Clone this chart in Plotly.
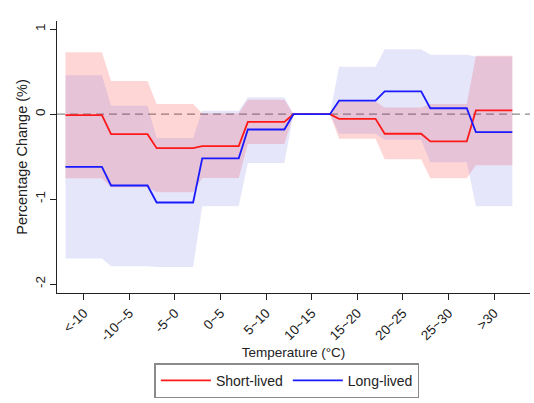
import plotly.graph_objects as go

# Temperature bins and estimated effects (percentage change) with confidence bounds
categories = ["<-10", "-10~-5", "-5~0", "0~5", "5~10", "10~15", "15~20", "20~25", "25~30", ">30"]

short_est = [-0.01, -0.235, -0.40, -0.375, -0.09, 0.0, -0.055, -0.23, -0.32, 0.045]
short_hi = [0.73, 0.39, 0.12, 0.01, 0.17, 0.0, 0.15, 0.08, 0.12, 0.69]
short_lo = [-0.755, -0.86, -0.92, -0.75, -0.35, 0.0, -0.29, -0.53, -0.755, -0.60]

long_est = [-0.62, -0.84, -1.04, -0.52, -0.18, 0.0, 0.16, 0.27, 0.07, -0.21]
long_hi = [0.46, 0.10, -0.28, 0.04, 0.20, 0.0, 0.56, 0.765, 0.70, 0.68]
long_lo = [-1.70, -1.79, -1.80, -1.085, -0.575, 0.0, -0.23, -0.30, -0.565, -1.085]

HALF = 0.4  # half-width of each flat step around its bin centre
FONT = "Arial, 'Liberation Sans', sans-serif"


def step_x(n):
    xs = []
    for i in range(n):
        xs += [i - HALF, i + HALF]
    return xs


def step_y(vals):
    ys = []
    for v in vals:
        ys += [v, v]
    return ys


xs = step_x(len(categories))

fig = go.Figure()


def band(lo, hi, color):
    fig.add_trace(go.Scatter(
        x=xs + xs[::-1],
        y=step_y(hi) + step_y(lo)[::-1],
        fill="toself", fillcolor=color,
        line=dict(width=0), mode="lines",
        hoverinfo="skip", showlegend=False,
    ))


band(short_lo, short_hi, "rgba(255,0,0,0.16)")
band(long_lo, long_hi, "rgba(88,88,222,0.15)")

fig.add_trace(go.Scatter(
    x=xs, y=step_y(short_est), mode="lines", name="Short-lived",
    line=dict(color="#ff1a1a", width=1.8),
))
fig.add_trace(go.Scatter(
    x=xs, y=step_y(long_est), mode="lines", name="Long-lived",
    line=dict(color="#1a1aff", width=1.8),
))

# zero reference line
fig.add_hline(y=0, line=dict(color="#8c8c8c", width=1.3, dash="8px,5px"), layer="below")

fig.update_layout(
    width=534, height=403,
    margin=dict(l=57, r=4, t=21, b=110),
    paper_bgcolor="white", plot_bgcolor="white",
    font=dict(family=FONT, size=13, color="#222"),
    showlegend=True,
    legend=dict(
        orientation="h", x=0.486, xanchor="center", y=-0.258, yanchor="top",
        bordercolor="#8a8a8a", borderwidth=1.5, bgcolor="white",
        font=dict(family=FONT, size=14, color="#222"),
        itemwidth=50,
    ),
    xaxis=dict(
        range=[-0.585, 9.787],
        tickmode="array", tickvals=list(range(len(categories))), ticktext=categories,
        tickangle=-45, ticks="outside", ticklen=6, tickcolor="#222",
        tickfont=dict(size=13.5),
        showline=True, linecolor="#222", linewidth=1,
        showgrid=False, zeroline=False,
        title=dict(text="Temperature (°C)", font=dict(size=13.5), standoff=4),
    ),
    yaxis=dict(
        range=[-2.106, 1.098],
        tickmode="array", tickvals=[-2, -1, 0, 1], ticktext=["-2", "-1", "0", "1"],
        tickangle=-90, ticks="outside", ticklen=6, tickcolor="#222",
        tickfont=dict(size=13.5),
        showline=True, linecolor="#222", linewidth=1,
        showgrid=False, zeroline=False,
        title=dict(text="Percentage Change (%)", font=dict(size=14.5), standoff=1),
    ),
)

fig.write_html("out.html")
